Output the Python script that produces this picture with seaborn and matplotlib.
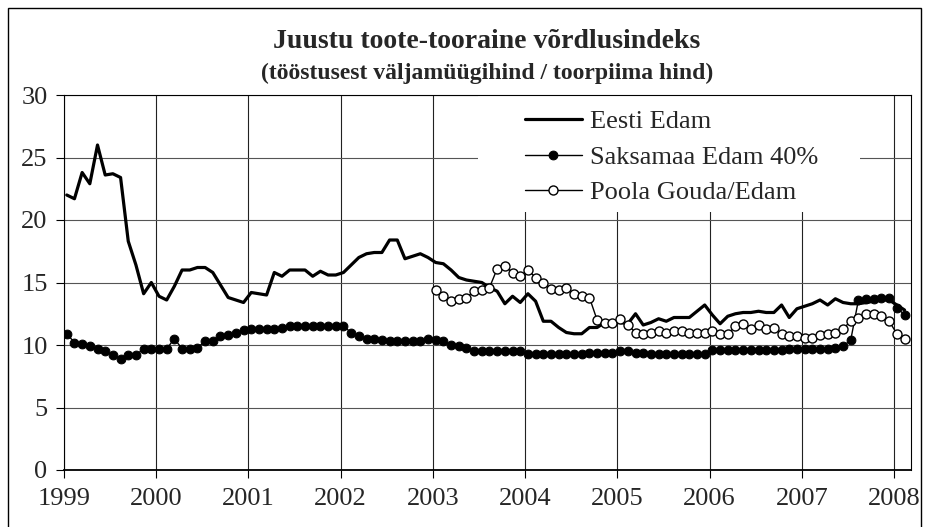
import numpy as np
import pandas as pd
import matplotlib
matplotlib.use("Agg")
import matplotlib.pyplot as plt
import seaborn as sns
from matplotlib.patches import Rectangle

# ---- data (monthly, Jan 1999 - Feb 2008) ----
eesti = [
    22.0, 21.7, 23.8, 22.9, 26.0, 23.6, 23.7, 23.4, 18.3, 16.4, 14.1, 15.0,   # 1999
    13.9, 13.6, 14.7, 16.0, 16.0, 16.2, 16.2, 15.8, 14.8, 13.8, 13.6, 13.4,   # 2000
    14.2, 14.1, 14.0, 15.8, 15.5, 16.0, 16.0, 16.0, 15.5, 15.9, 15.6, 15.6,   # 2001
    15.8, 16.4, 17.0, 17.3, 17.4, 17.4, 18.4, 18.4, 16.9, 17.1, 17.3, 17.0,   # 2002
    16.6, 16.5, 16.0, 15.4, 15.2, 15.1, 15.0, 14.6, 14.3, 13.3, 13.9, 13.4,   # 2003
    14.1, 13.5, 11.9, 11.9, 11.4, 11.0, 10.9, 10.9, 11.4, 11.4, 11.8, 11.8,   # 2004
    11.8, 11.7, 12.5, 11.6, 11.8, 12.1, 11.9, 12.2, 12.2, 12.2, 12.7, 13.2,   # 2005
    12.4, 11.7, 12.3, 12.5, 12.6, 12.6, 12.7, 12.6, 12.6, 13.2, 12.2, 12.9,   # 2006
    13.1, 13.3, 13.6, 13.2, 13.7, 13.4, 13.3, 13.3, 13.4, 13.5, 13.6, 13.6,   # 2007
    13.2, 12.8,                                                               # 2008
]
saksamaa = [
    10.9, 10.2, 10.1, 9.9, 9.7, 9.5, 9.2, 8.9, 9.2, 9.2, 9.7, 9.7,            # 1999
    9.7, 9.7, 10.5, 9.7, 9.7, 9.8, 10.3, 10.3, 10.7, 10.8, 11.0, 11.2,        # 2000
    11.3, 11.3, 11.3, 11.3, 11.4, 11.5, 11.5, 11.5, 11.5, 11.5, 11.5, 11.5,   # 2001
    11.5, 11.0, 10.7, 10.5, 10.5, 10.4, 10.3, 10.3, 10.3, 10.3, 10.3, 10.5,   # 2002
    10.4, 10.3, 10.0, 9.9, 9.8, 9.5, 9.5, 9.5, 9.5, 9.5, 9.5, 9.5,            # 2003
    9.3, 9.3, 9.3, 9.3, 9.3, 9.3, 9.3, 9.3, 9.4, 9.4, 9.4, 9.4,              # 2004
    9.5, 9.5, 9.4, 9.4, 9.3, 9.3, 9.3, 9.3, 9.3, 9.3, 9.3, 9.3,              # 2005
    9.6, 9.6, 9.6, 9.6, 9.6, 9.6, 9.6, 9.6, 9.6, 9.6, 9.7, 9.7,              # 2006
    9.7, 9.7, 9.7, 9.7, 9.8, 9.9, 10.4, 13.6, 13.7, 13.7, 13.8, 13.8,        # 2007
    13.0, 12.4,                                                              # 2008
]
poola = [
    14.4, 13.9, 13.5, 13.7, 13.8, 14.3, 14.4, 14.6, 16.1, 16.3, 15.8, 15.5,   # 2003
    16.0, 15.4, 15.0, 14.5, 14.4, 14.6, 14.1, 13.9, 13.8, 12.0, 11.8, 11.8,   # 2004
    12.1, 11.6, 11.0, 10.9, 11.0, 11.1, 11.0, 11.1, 11.1, 11.0, 11.0, 11.0,   # 2005
    11.1, 10.9, 10.9, 11.5, 11.7, 11.3, 11.6, 11.3, 11.4, 10.9, 10.7, 10.7,   # 2006
    10.6, 10.6, 10.8, 10.9, 11.0, 11.3, 11.9, 12.2, 12.5, 12.5, 12.3, 11.9,   # 2007
    10.9, 10.5,                                                               # 2008
]
series_names = ["Eesti Edam", "Saksamaa Edam 40%", "Poola Gouda/Edam"]
years = list(range(1999, 2009))
yticks = [0, 5, 10, 15, 20, 25, 30]
title_line1 = "Juustu toote-tooraine võrdlusindeks"
title_line2 = "(tööstusest väljamüügihind / toorpiima hind)"

def months(start_year, n):
    return [start_year + i / 12 + 0.03 for i in range(n)]

df_e = pd.DataFrame({"t": months(1999, len(eesti)), "v": eesti})
df_s = pd.DataFrame({"t": months(1999, len(saksamaa)), "v": saksamaa})
df_p = pd.DataFrame({"t": months(2003, len(poola)), "v": poola})

sns.set_style("white")
plt.rcParams["font.family"] = ["Liberation Serif", "DejaVu Serif"]

FS = 19

fig = plt.figure(figsize=(9.28, 5.27), dpi=100)
ax = fig.add_axes([64 / 928, 57 / 527, 847 / 928, 375 / 527])

sns.lineplot(data=df_e, x="t", y="v", ax=ax, color="black", lw=2.3,
             label=series_names[0], zorder=3)
sns.lineplot(data=df_s, x="t", y="v", ax=ax, color="black", lw=1.0,
             marker="o", markersize=6.3, markerfacecolor="black",
             markeredgecolor="black", label=series_names[1], zorder=4)
sns.lineplot(data=df_p, x="t", y="v", ax=ax, color="black", lw=1.0,
             marker="o", markersize=6.5, markerfacecolor="white",
             markeredgecolor="black", markeredgewidth=1.0,
             label=series_names[2], zorder=5)

ax.set_xlim(1999, 2008 + 2.2 / 12)
ax.set_ylim(0, 30)
ax.set_xticks(years)
ax.set_xticklabels([str(y) for y in years], fontsize=FS)
ax.set_yticks(yticks)
ax.set_yticklabels([str(y) for y in yticks], fontsize=FS)
ax.set_xlabel("")
ax.set_ylabel("")
ax.tick_params(axis="both", direction="out", length=5.8, width=0.8, color="black",
               bottom=True, left=True)
ax.tick_params(axis="x", pad=7)
ax.tick_params(axis="y", pad=6)
ax.grid(True, axis="y", color="#555555", lw=0.8)
ax.grid(True, axis="x", color="#222222", lw=0.8)
ax.set_axisbelow(True)
for s in ax.spines.values():
    s.set_color("black")
    s.set_linewidth(0.8)
ax.spines["bottom"].set_linewidth(1.3)

# white legend background covering the gridlines
ax.add_patch(Rectangle((0.489, 0.688), 0.451, 0.312, transform=ax.transAxes,
                       facecolor="white", edgecolor="none", zorder=2))

leg = ax.legend(loc="upper left", bbox_to_anchor=(0.544, 0.96), fontsize=FS,
                frameon=False, handlelength=2.16, handletextpad=0.3,
                labelspacing=0.45, borderpad=0, borderaxespad=0)
leg.set_zorder(6)

fig.text(487 / 928, 1 - 41 / 527, title_line1, ha="center", va="center",
         fontsize=20, fontweight="bold")
fig.text(487 / 928, 1 - 73 / 527, title_line2, ha="center", va="center",
         fontsize=17, fontweight="bold")

fig.patches.append(Rectangle((8 / 928, -0.05), 913 / 928, 1 - 8 / 527 + 0.05,
                             transform=fig.transFigure, fill=False,
                             edgecolor="black", lw=1.0))

fig.savefig("out.png", dpi=100)
